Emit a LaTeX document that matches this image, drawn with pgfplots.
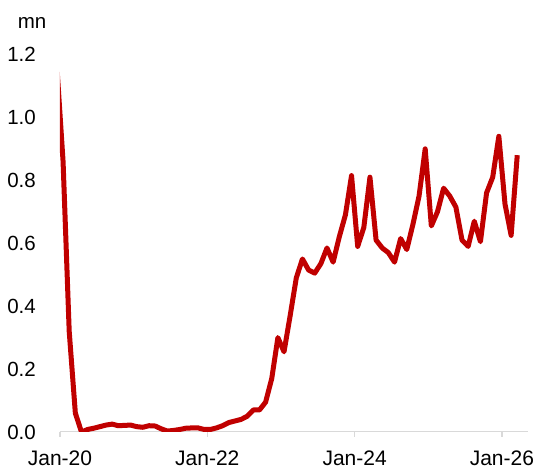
\documentclass[border=0pt]{standalone}
\usepackage{pgfplots}
\pgfplotsset{compat=1.18}
\usepackage{fontspec}
\setmainfont{Liberation Sans}
\definecolor{linered}{HTML}{C00000}
\definecolor{axisgray}{HTML}{D9D9D9}

% Monthly series (mn), plotted at mid-month; x = months since Jan-20
\pgfplotstableread{
x     y
-0.5  1.16
0.5   0.86
1.5   0.32
2.5   0.06
3.5   0.00
4.5   0.008
5.5   0.012
6.5   0.017
7.5   0.022
8.5   0.025
9.5   0.020
10.5  0.021
11.5  0.022
12.5  0.017
13.5  0.015
14.5  0.020
15.5  0.019
16.5  0.010
17.5  0.003
18.5  0.005
19.5  0.008
20.5  0.012
21.5  0.013
22.5  0.013
23.5  0.008
24.5  0.008
25.5  0.013
26.5  0.020
27.5  0.030
28.5  0.035
29.5  0.040
30.5  0.050
31.5  0.070
32.5  0.070
33.5  0.095
34.5  0.170
35.5  0.300
36.5  0.255
37.5  0.370
38.5  0.490
39.5  0.550
40.5  0.515
41.5  0.505
42.5  0.535
43.5  0.585
44.5  0.540
45.5  0.620
46.5  0.690
47.5  0.815
48.5  0.590
49.5  0.650
50.5  0.810
51.5  0.610
52.5  0.585
53.5  0.570
54.5  0.540
55.5  0.615
56.5  0.580
57.5  0.660
58.5  0.750
59.5  0.900
60.5  0.655
61.5  0.700
62.5  0.775
63.5  0.750
64.5  0.715
65.5  0.610
66.5  0.590
67.5  0.670
68.5  0.605
69.5  0.760
70.5  0.810
71.5  0.940
72.5  0.725
73.5  0.625
74.5  0.880
}\series

\begin{document}
\fontsize{21}{24}\selectfont
\begin{tikzpicture}
\path[use as bounding box] (-60pt,-34pt) rectangle (487pt,432pt);
\begin{axis}[
  at={(0pt,0pt)}, anchor=south west,
  scale only axis,
  width=468pt, height=377.5pt,
  xmin=0, xmax=76.25,
  ymin=0, ymax=1.2,
  axis line style={draw=none},
  axis x line*=bottom,
  axis y line*=left,
  xtick={0,24,48,72},
  xticklabels={Jan-20,Jan-22,Jan-24,Jan-26},
  ytick={0,0.2,...,1.2},
  tick align=outside,
  major tick length=5pt,
  xtick style={draw=axisgray, line width=1.5pt},
  ytick style={draw=none},
  /pgf/number format/assume math mode=true,
  yticklabel style={/pgf/number format/fixed, /pgf/number format/fixed zerofill, /pgf/number format/precision=1},
  yticklabel style={anchor=east, inner sep=0pt, xshift=-19pt, font=\fontsize{20.5}{24}\selectfont},
  xticklabel style={anchor=base, inner sep=0pt, yshift=-29pt, font=\fontsize{21}{24}\selectfont},
  ticklabel style={text=black},
  clip=true,
]
\draw[axisgray, line width=1.5pt] (rel axis cs:0,0) -- (rel axis cs:1,0);
\addplot[linered, line width=5pt, line join=round, no markers] table[x=x, y=y] {\series};
\end{axis}
\node[anchor=center, font=\fontsize{20.5}{24}\selectfont] at (-28pt,409pt) {mn};
\end{tikzpicture}
\end{document}
